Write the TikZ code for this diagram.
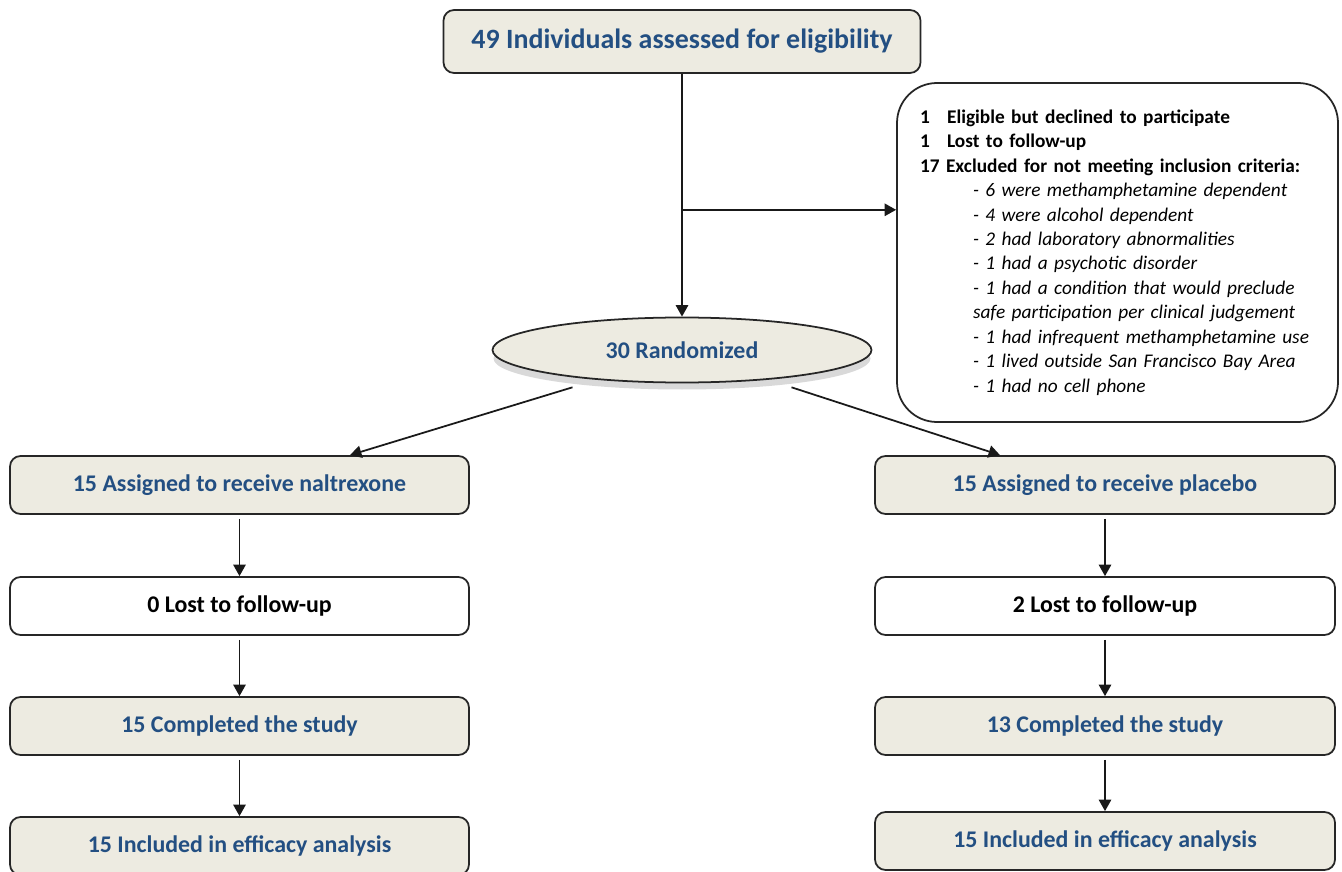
\documentclass[tikz,border=0pt]{standalone}
\usepackage{fontspec}
\setmainfont{Carlito}
\usetikzlibrary{arrows.meta,shapes.geometric}
\definecolor{sabbia}{HTML}{EDEBE1}
\definecolor{blutit}{HTML}{234F82}
\newcommand{\voce}[1]{\hspace*{1.06cm}\textit{#1}}
\newcommand{\num}[1]{\makebox[1.05em][l]{#1}}

\begin{document}
\begin{tikzpicture}[line width=1pt, >={Triangle[length=6.5pt,width=7pt]},
	casella/.style = {rectangle, rounded corners=6pt, draw=black!85, fill=sabbia,
		minimum width=9.18cm, minimum height=1.16cm, inner sep=0pt,
		text=blutit, font=\bfseries\fontsize{13.6}{16}\selectfont},
	bianca/.style  = {casella, fill=white, text=black},
	freccia/.style = {->, line width=1pt, black!90},
	]
	
	%% ── Riquadro pagina ──────────────────────────────────────────────────────
	\useasboundingbox (0,0) rectangle (26.84,-17.44);
	
	%% ── Valutazione e randomizzazione ────────────────────────────────────────
	\node[casella, minimum width=9.54cm, minimum height=1.26cm,
		font=\bfseries\fontsize{15.9}{18}\selectfont] (valut) at (13.64,-0.83)
		{49 Individuals assessed for eligibility};
	
	\fill[black!15] (13.64,-7.17) ellipse (3.77cm and 0.62cm);
	\node[ellipse, draw=black!85, fill=sabbia, minimum width=7.58cm,
		minimum height=1.3cm, inner sep=0pt, text=blutit,
		font=\bfseries\fontsize{13.6}{16}\selectfont] (rand) at (13.64,-7.0)
		{30 Randomized};
	
	%% ── Esclusi ──────────────────────────────────────────────────────────────
	\node[rectangle, rounded corners=0.8cm, draw=black!85, fill=white,
		minimum width=8.82cm, minimum height=6.78cm, text width=7.9cm,
		align=left, font=\fontsize{11}{13.9}\selectfont] (escl) at (22.35,-5.05)
		{\textbf{\num{1}\hspace{0.35em}Eligible but declined to participate}\\
		 \textbf{\num{1}\hspace{0.35em}Lost to follow-up}\\
		 \textbf{17 Excluded for not meeting inclusion criteria:}\\
		 \voce{- 6 were methamphetamine dependent}\\
		 \voce{- 4 were alcohol dependent}\\
		 \voce{- 2 had laboratory abnormalities}\\
		 \voce{- 1 had a psychotic disorder}\\
		 \voce{- 1 had a condition that would preclude}\\
		 \voce{safe participation per clinical judgement}\\
		 \voce{- 1 had infrequent methamphetamine use}\\
		 \voce{- 1 lived outside San Francisco Bay Area}\\
		 \voce{- 1 had no cell phone}};
	
	%% ── Braccio naltrexone ───────────────────────────────────────────────────
	\node[casella] (nal)  at (4.79,-9.70)  {15 Assigned to receive naltrexone};
	\node[bianca]  (nlos) at (4.79,-12.12) {0 Lost to follow-up};
	\node[casella] (ncom) at (4.79,-14.52) {15 Completed the study};
	\node[casella] (ninc) at (4.79,-16.92) {15 Included in efficacy analysis};
	
	%% ── Braccio placebo ──────────────────────────────────────────────────────
	\node[casella, minimum width=9.2cm] (plc)  at (22.10,-9.70)  {15 Assigned to receive placebo};
	\node[bianca,  minimum width=9.2cm] (plos) at (22.10,-12.12) {2 Lost to follow-up};
	\node[casella, minimum width=9.2cm] (pcom) at (22.10,-14.52) {13 Completed the study};
	\node[casella, minimum width=9.2cm] (pinc) at (22.10,-16.82) {15 Included in efficacy analysis};
	
	%% ── Frecce ───────────────────────────────────────────────────────────────
	\draw[freccia] (valut) -- (rand) coordinate[pos=0.56] (ramo);
	\draw[freccia] (ramo) -- (ramo -| escl.west);
	
	\draw[freccia] ([yshift=-0.2cm]rand.194) -- ([xshift=2.21cm]nal.north);
	\draw[freccia] ([yshift=-0.2cm]rand.346) -- ([xshift=-2.1cm]plc.north);
	
	\foreach \a/\b in {nal/nlos, nlos/ncom, ncom/ninc, plc/plos, plos/pcom, pcom/pinc}
	\draw[freccia, shorten <=0.08cm] (\a) -- (\b);
	
\end{tikzpicture}
\end{document}
